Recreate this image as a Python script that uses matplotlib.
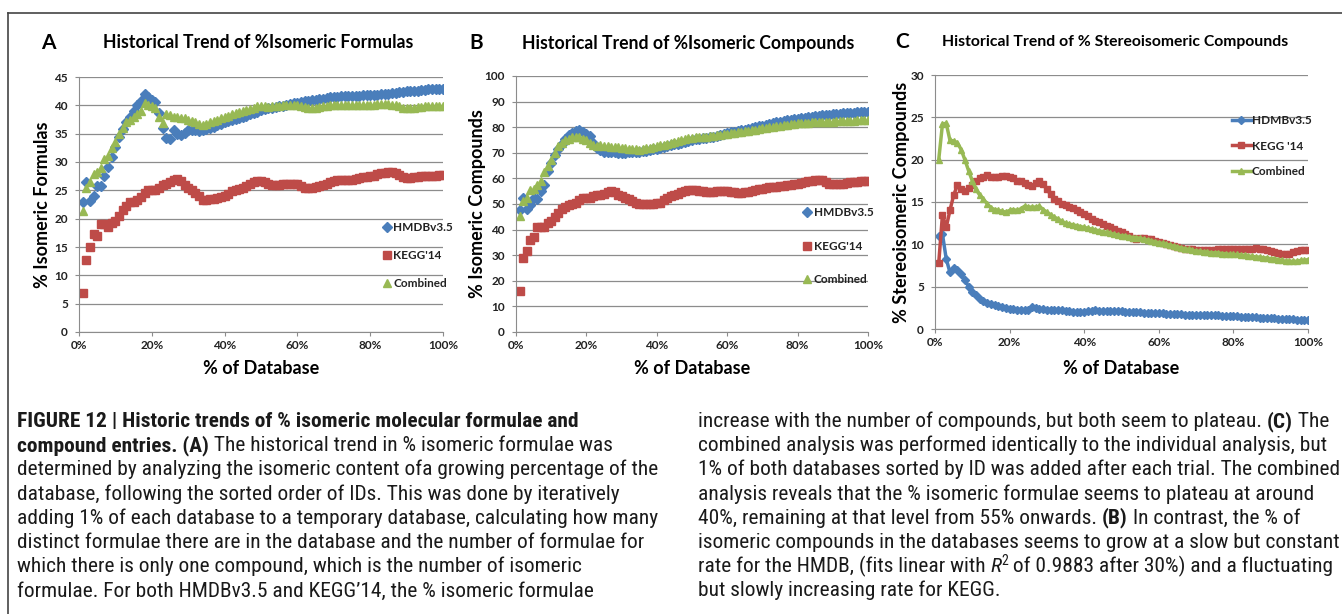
# Historic trends of % isomeric formulae / compounds (3 panels + figure caption)
import matplotlib
matplotlib.use("Agg")
import matplotlib.pyplot as plt
from matplotlib import font_manager
import numpy as np

# ── DATA (1% .. 100% of database) ──────────────────────────────────
PCT = list(range(1, 101))

A_HMDB = [23.0, 26.5, 23.2, 24.0, 25.8, 25.8, 27.5, 29.2, 30.8, 32.6,
          34.5, 35.8, 37.0, 38.0, 39.0, 40.0, 40.8, 42.0, 41.5, 41.0,
          40.6, 38.7, 36.0, 34.2, 34.0, 35.6, 35.0, 34.8, 35.2, 35.6,
          35.7, 35.6, 35.5, 35.6, 35.8, 36.0, 36.2, 36.5, 36.7, 37.0,
          37.2, 37.4, 37.6, 37.8, 38.0, 38.2, 38.4, 38.6, 38.8, 39.2,
          39.4, 39.5, 39.6, 39.7, 39.8, 39.9, 40.0, 40.2, 40.4, 40.5,
          40.6, 40.7, 40.8, 40.9, 41.0, 41.1, 41.2, 41.3, 41.4, 41.5,
          41.5, 41.6, 41.6, 41.6, 41.7, 41.7, 41.7, 41.8, 41.8, 41.8,
          41.9, 41.9, 42.0, 42.0, 42.0, 42.1, 42.2, 42.3, 42.4, 42.5,
          42.5, 42.6, 42.6, 42.7, 42.7, 42.8, 42.8, 42.8, 42.8, 42.8]
A_KEGG = [6.8, 12.7, 15.0, 17.3, 17.0, 19.0, 19.0, 18.5, 19.3, 19.6,
          20.5, 21.5, 22.2, 23.0, 23.0, 23.3, 23.8, 24.5, 25.0, 25.1,
          25.0, 25.5, 26.0, 26.2, 26.5, 26.8, 27.0, 26.6, 26.0, 25.5,
          25.0, 24.5, 24.0, 23.3, 23.3, 23.4, 23.5, 23.6, 23.8, 24.0,
          24.3, 24.8, 25.0, 25.3, 25.5, 25.8, 26.2, 26.5, 26.6, 26.6,
          26.5, 26.2, 26.0, 26.0, 26.0, 26.1, 26.1, 26.1, 26.2, 26.1,
          25.8, 25.5, 25.4, 25.5, 25.6, 25.8, 26.0, 26.2, 26.4, 26.6,
          26.8, 26.9, 26.8, 26.8, 26.9, 27.0, 27.2, 27.3, 27.4, 27.5,
          27.6, 27.8, 28.0, 28.1, 28.2, 28.2, 28.0, 27.7, 27.3, 27.2,
          27.2, 27.3, 27.4, 27.5, 27.5, 27.5, 27.6, 27.6, 27.7, 27.7]
A_COMB = [21.3, 25.5, 26.5, 27.9, 28.3, 29.0, 30.5, 31.0, 32.5, 33.5,
          35.0, 36.0, 37.0, 37.5, 38.0, 38.5, 39.0, 40.5, 40.0, 39.8,
          39.5, 38.0, 36.8, 38.5, 38.3, 38.0, 38.0, 37.8, 37.8, 37.5,
          37.2, 37.0, 36.7, 36.5, 36.7, 37.0, 37.2, 37.5, 37.7, 38.0,
          38.2, 38.4, 38.6, 38.8, 39.0, 39.2, 39.4, 39.6, 39.8, 39.9,
          39.8, 39.7, 39.8, 39.8, 39.9, 40.0, 40.0, 40.0, 40.0, 40.0,
          39.8, 39.7, 39.6, 39.6, 39.6, 39.7, 39.8, 39.9, 40.0, 40.1,
          40.1, 40.0, 40.0, 40.0, 40.0, 40.0, 40.0, 40.0, 40.1, 40.1,
          40.1, 40.2, 40.3, 40.3, 40.2, 40.1, 40.0, 39.8, 39.6, 39.5,
          39.5, 39.6, 39.7, 39.7, 39.8, 39.8, 39.8, 39.8, 39.8, 39.8]

B_HMDB = [47.8, 52.5, 48.0, 49.5, 52.5, 52.0, 55.0, 57.5, 63.0, 66.0,
          69.0, 71.5, 73.5, 75.5, 77.0, 77.8, 78.5, 79.0, 78.0, 77.5,
          76.5, 74.0, 72.0, 71.0, 70.5, 70.5, 70.3, 70.2, 70.0, 70.0,
          70.1, 70.2, 70.3, 70.4, 70.5, 70.7, 70.8, 71.0, 71.3, 71.6,
          72.0, 72.3, 72.7, 73.0, 73.3, 73.6, 74.0, 74.3, 74.6, 75.0,
          75.2, 75.4, 75.6, 75.8, 76.0, 76.3, 76.6, 77.0, 77.3, 77.6,
          78.0, 78.3, 78.6, 78.8, 79.0, 79.3, 79.6, 80.0, 80.3, 80.6,
          81.0, 81.3, 81.6, 81.9, 82.2, 82.5, 82.7, 82.9, 83.1, 83.3,
          83.5, 83.7, 83.9, 84.1, 84.3, 84.5, 84.6, 84.8, 84.9, 85.1,
          85.2, 85.3, 85.4, 85.5, 85.6, 85.7, 85.8, 85.9, 86.0, 86.0]
B_KEGG = [16.2, 29.0, 31.5, 36.0, 37.0, 41.0, 41.0, 41.0, 42.5, 43.5,
          45.0, 46.5, 48.0, 49.0, 49.5, 50.0, 50.5, 51.5, 52.5, 52.5,
          52.5, 53.0, 53.5, 53.5, 54.0, 54.5, 55.0, 54.5, 53.5, 53.0,
          52.5, 52.0, 51.0, 50.5, 50.0, 50.0, 50.0, 50.0, 50.1, 50.2,
          50.5, 51.5, 52.5, 53.0, 53.6, 54.0, 54.5, 55.0, 55.3, 55.5,
          55.4, 55.2, 55.0, 54.8, 54.7, 54.8, 54.9, 55.0, 55.0, 54.9,
          54.7, 54.5, 54.3, 54.3, 54.5, 54.8, 55.0, 55.4, 55.8, 56.0,
          56.3, 56.5, 56.7, 56.8, 57.0, 57.1, 57.3, 57.5, 57.8, 58.0,
          58.3, 58.5, 58.8, 59.0, 59.2, 59.5, 59.3, 58.7, 58.0, 57.8,
          57.8, 57.9, 58.0, 58.2, 58.4, 58.6, 58.7, 58.8, 59.0, 59.0]
B_COMB = [45.5, 51.0, 52.5, 55.5, 56.0, 57.5, 59.0, 62.5, 65.0, 67.0,
          70.0, 72.5, 74.0, 75.0, 75.5, 76.0, 76.3, 76.0, 75.5, 75.0,
          74.0, 73.0, 72.5, 73.0, 72.8, 72.6, 72.4, 72.3, 72.2, 72.0,
          71.8, 71.6, 71.5, 71.3, 71.2, 71.4, 71.7, 72.0, 72.3, 72.6,
          72.9, 73.2, 73.5, 73.8, 74.2, 74.6, 75.0, 75.3, 75.6, 75.8,
          76.0, 76.1, 76.2, 76.3, 76.4, 76.6, 76.8, 77.0, 77.2, 77.5,
          77.7, 77.9, 78.1, 78.3, 78.5, 78.7, 78.9, 79.1, 79.3, 79.5,
          79.7, 79.9, 80.1, 80.3, 80.5, 80.7, 80.9, 81.1, 81.3, 81.5,
          81.6, 81.7, 81.8, 81.9, 82.0, 82.0, 82.1, 82.1, 82.2, 82.2,
          82.3, 82.3, 82.4, 82.4, 82.5, 82.6, 82.7, 82.8, 82.9, 83.0]

C_HMDB = [11.0, 11.2, 8.3, 6.7, 7.2, 7.0, 6.5, 5.8, 5.0, 4.4,
          4.0, 3.6, 3.3, 3.1, 3.0, 2.8, 2.7, 2.6, 2.5, 2.4,
          2.4, 2.3, 2.3, 2.2, 2.3, 2.6, 2.5, 2.4, 2.4, 2.3,
          2.3, 2.2, 2.2, 2.2, 2.1, 2.1, 2.0, 2.0, 2.0, 2.0,
          2.1, 2.1, 2.2, 2.1, 2.1, 2.1, 2.1, 2.1, 2.1, 2.1,
          2.0, 2.0, 2.0, 2.0, 2.0, 1.9, 1.9, 1.9, 1.9, 1.9,
          1.9, 1.8, 1.8, 1.8, 1.8, 1.8, 1.7, 1.7, 1.7, 1.7,
          1.7, 1.6, 1.6, 1.6, 1.6, 1.6, 1.5, 1.5, 1.5, 1.5,
          1.5, 1.4, 1.4, 1.4, 1.4, 1.4, 1.3, 1.3, 1.3, 1.3,
          1.3, 1.2, 1.2, 1.2, 1.2, 1.2, 1.1, 1.1, 1.1, 1.1]
C_KEGG = [7.8, 13.5, 12.0, 14.0, 15.8, 17.0, 16.5, 16.3, 16.6, 17.0,
          17.5, 17.8, 18.0, 18.2, 17.9, 17.9, 18.0, 18.1, 18.1, 18.0,
          17.8, 17.5, 17.5, 17.3, 17.0, 16.9, 17.2, 17.5, 17.1, 16.5,
          15.9, 15.4, 15.1, 14.8, 14.6, 14.4, 14.3, 14.0, 13.8, 13.6,
          13.3, 13.0, 12.8, 12.6, 12.4, 12.2, 12.0, 11.8, 11.6, 11.4,
          11.2, 11.0, 10.8, 10.6, 10.7, 10.7, 10.6, 10.6, 10.4, 10.3,
          10.1, 10.0, 9.9, 9.8, 9.7, 9.6, 9.5, 9.4, 9.4, 9.3,
          9.3, 9.3, 9.3, 9.3, 9.3, 9.4, 9.4, 9.4, 9.4, 9.4,
          9.4, 9.4, 9.5, 9.5, 9.5, 9.6, 9.5, 9.4, 9.3, 9.2,
          9.1, 9.0, 8.9, 8.8, 8.9, 9.1, 9.2, 9.3, 9.3, 9.3]
C_COMB = [20.0, 24.2, 24.3, 22.3, 22.2, 22.0, 21.2, 20.0, 18.7, 17.5,
          16.5, 15.8, 15.3, 14.8, 14.3, 14.1, 14.0, 13.9, 13.8, 14.0,
          14.1, 14.0, 14.2, 14.5, 14.4, 14.4, 14.4, 14.5, 14.1, 13.8,
          13.5, 13.2, 13.0, 12.7, 12.5, 12.4, 12.3, 12.2, 12.1, 12.0,
          11.9, 11.8, 11.7, 11.6, 11.5, 11.4, 11.3, 11.2, 11.1, 11.0,
          11.0, 10.9, 10.8, 10.8, 10.7, 10.6, 10.5, 10.4, 10.3, 10.2,
          10.1, 10.0, 9.9, 9.8, 9.7, 9.6, 9.5, 9.4, 9.3, 9.2,
          9.2, 9.1, 9.1, 9.0, 9.0, 9.0, 8.9, 8.9, 8.8, 8.8,
          8.8, 8.7, 8.7, 8.6, 8.6, 8.5, 8.5, 8.4, 8.4, 8.3,
          8.3, 8.2, 8.1, 8.0, 8.0, 8.0, 8.0, 8.1, 8.1, 8.2]

LABELS_AB = ["HMDBv3.5", "KEGG'14", "Combined"]
LABELS_C = ["HDMBv3.5", "KEGG '14", "Combined"]

CAPTION_LEFT = [
    [("FIGURE 12 | Historic trends of % isomeric molecular formulae and", "b")],
    [("compound entries. (A)", "b"), (" The historical trend in % isomeric formulae was", "n")],
    [("determined by analyzing the isomeric content ofa growing percentage of the", "n")],
    [("database, following the sorted order of IDs. This was done by iteratively", "n")],
    [("adding 1% of each database to a temporary database, calculating how many", "n")],
    [("distinct formulae there are in the database and the number of formulae for", "n")],
    [("which there is only one compound, which is the number of isomeric", "n")],
    [("formulae. For both HMDBv3.5 and KEGG\u201914, the % isomeric formulae", "n")],
]
CAPTION_RIGHT = [
    [("increase with the number of compounds, but both seem to plateau. ", "n"), ("(C)", "b"), (" The", "n")],
    [("combined analysis was performed identically to the individual analysis, but", "n")],
    [("1% of both databases sorted by ID was added after each trial. The combined", "n")],
    [("analysis reveals that the % isomeric formulae seems to plateau at around", "n")],
    [("40%, remaining at that level from 55% onwards. ", "n"), ("(B)", "b"), (" In contrast, the % of", "n")],
    [("isomeric compounds in the databases seems to grow at a slow but constant", "n")],
    [("rate for the HMDB, (fits linear with ", "n"), ("R", "i"), ("2", "sup"),
     (" of 0.9883 after 30%) and a fluctuating", "n")],
    [("but slowly increasing rate for KEGG.", "n")],
]

# ── STYLE ───────────────────────────────────────────────────────────
BLUE, RED, GREEN = "#4A7EBB", "#BE4B48", "#98B954"
GRID = "#8C8C8C"
CHART_FONT = "Lato"

# caption is set in a condensed grotesque; use a condensed face if one is installed
_fonts = font_manager.fontManager.ttflist
_names = {f.name for f in _fonts}
CAPTION_FONT, CAPTION_STRETCH = "Liberation Sans", "normal"
if "Liberation Sans Narrow" in _names:
    CAPTION_FONT = "Liberation Sans Narrow"
else:
    for pref in ("Roboto Condensed", "Open Sans Condensed", "Noto Sans", "Roboto",
                 "Open Sans", "DejaVu Sans", "Liberation Sans"):
        hits = [f for f in _fonts if f.name == pref and f.style == "normal"
                and str(f.stretch) in ("condensed", "semi-condensed")]
        if hits or (pref.endswith("Condensed") and pref in _names):
            CAPTION_FONT = pref
            CAPTION_STRETCH = str(hits[0].stretch) if hits else "normal"
            break

W, H = 1342, 614
fig = plt.figure(figsize=(W / 100, H / 100), dpi=100)
renderer = fig.canvas.get_renderer()


def px(x, y):
    return x / W, 1 - y / H


def px_axes(left, top, right, bottom):
    return fig.add_axes([left / W, 1 - bottom / H, (right - left) / W, (bottom - top) / H])


def style_axes(ax, ymax, ystep):
    ax.set_xlim(0, 100)
    ax.set_ylim(0, ymax)
    ax.set_xticks(range(0, 101, 20))
    ax.set_xticklabels([f"{t}%" for t in range(0, 101, 20)])
    ax.set_yticks(np.arange(0, ymax + 0.1, ystep))
    ax.yaxis.grid(True, color=GRID, lw=0.9)
    ax.set_axisbelow(True)
    for s in ("top", "right"):
        ax.spines[s].set_visible(False)
    for s in ("left", "bottom"):
        ax.spines[s].set_color(GRID)
    ax.tick_params(length=3, color=GRID, labelsize=8.5, pad=3)
    ax.tick_params(axis="y", pad=5)
    for lab in ax.get_xticklabels() + ax.get_yticklabels():
        lab.set_fontweight("bold")
        lab.set_family(CHART_FONT)
        lab.set_color("#222222")


def fitted_text(x, y, s, target_px, base=12, **kw):
    t = fig.text(*px(x, y), s, fontsize=base, fontweight="bold", family=CHART_FONT,
                 ha="center", va="center", **kw)
    w = t.get_window_extent(renderer=renderer).width
    t.set_fontsize(base * target_px / w)
    return t


def panel_text(letter, lx, title, tx, ty, title_w, ylabel, ylx, yly, xlx):
    fig.text(*px(lx, ty), letter, fontsize=15, fontweight="bold", family=CHART_FONT,
             ha="center", va="center")
    fitted_text(tx, ty, title, title_w)
    fig.text(*px(ylx, yly), ylabel, fontsize=13, fontweight="bold", family=CHART_FONT,
             ha="center", va="center", rotation=90)
    fig.text(*px(xlx, 368), "% of Database", fontsize=13, fontweight="bold",
             family=CHART_FONT, ha="center", va="center")


def scatter_panel(ax, series, labels, anchor, spacing):
    for ys, col, mk, ms, lab in zip(series, (BLUE, RED, GREEN), ("D", "s", "^"),
                                    (4.8, 6.2, 6.2), labels):
        ax.plot(PCT, ys, ls="none", marker=mk, ms=ms, color=col, mec=col, label=lab)
    leg = ax.legend(loc="center left", bbox_to_anchor=anchor, frameon=False,
                    handlelength=0.6, handletextpad=0.25, labelspacing=spacing,
                    borderpad=0, prop={"family": CHART_FONT, "weight": "bold", "size": 8.5})
    for t in leg.get_texts():
        t.set_color("#222222")


# ── PANEL A ─────────────────────────────────────────────────────────
axA = px_axes(79, 77, 443, 332)
scatter_panel(axA, (A_HMDB, A_KEGG, A_COMB), LABELS_AB, (0.82, 0.30), 1.45)
style_axes(axA, 45, 5)
panel_text("A", 48, "Historical Trend of %Isomeric Formulas", 258, 43, 308,
           "% Isomeric Formulas", 43, 205, 261)

# ── PANEL B ─────────────────────────────────────────────────────────
axB = px_axes(516, 76, 868, 332)
scatter_panel(axB, (B_HMDB, B_KEGG, B_COMB), LABELS_AB, (0.80, 0.335), 1.9)
style_axes(axB, 100, 10)
panel_text("B", 476, "Historical Trend of %Isomeric Compounds", 688, 43, 330,
           "% Isomeric Compounds", 478, 204, 692)

# ── PANEL C ─────────────────────────────────────────────────────────
axC = px_axes(935, 75, 1308, 329)
for ys, col, mk, ms, lab in zip((C_HMDB, C_KEGG, C_COMB), (BLUE, RED, GREEN),
                                ("D", "s", "^"), (4, 5, 5), LABELS_C):
    axC.plot(PCT, ys, lw=2.5, marker=mk, ms=ms, color=col, mec=col, label=lab)
legC = axC.legend(loc="center left", bbox_to_anchor=(0.78, 0.72), frameon=False,
                  handlelength=1.6, handletextpad=0.1, labelspacing=1.25, borderpad=0,
                  prop={"family": CHART_FONT, "weight": "bold", "size": 8.5})
for t in legC.get_texts():
    t.set_color("#222222")
style_axes(axC, 30, 5)
panel_text("C", 902, "Historical Trend of % Stereoisomeric Compounds", 1115, 42, 345,
           "% Stereoisomeric Compounds", 902, 202, 1121)

# ── FRAME ───────────────────────────────────────────────────────────
fig.add_artist(plt.Line2D([8 / W, 8 / W], [0, 1 - 13 / H], color="#444444", lw=1.2))
fig.add_artist(plt.Line2D([8 / W, 1], [1 - 13 / H, 1 - 13 / H], color="#444444", lw=1.2))


# ── CAPTION ─────────────────────────────────────────────────────────
def text_width(parts, size):
    w = 0
    for text, kind in parts:
        t = fig.text(0, 0, text, fontsize=size, family=CAPTION_FONT, fontstretch=CAPTION_STRETCH,
                     fontweight="bold" if kind == "b" else "normal")
        w += t.get_window_extent(renderer=renderer).width
        t.remove()
    return w


def caption_line(x, y, parts, size):
    for text, kind in parts:
        kw = {"fontsize": size, "family": CAPTION_FONT, "fontstretch": CAPTION_STRETCH,
              "va": "baseline", "color": "#1a1a1a"}
        yy = y
        if kind == "b":
            kw["fontweight"] = "bold"
        elif kind == "i":
            kw["style"] = "italic"
        elif kind == "sup":
            kw["fontsize"] = size * 0.65
            yy = y - 7
        t = fig.text(*px(x, yy), text, **kw)
        x += t.get_window_extent(renderer=renderer).width


# one size for the whole caption, fitted so the widest lines reach the column edges
CAP_SIZE = min(10 * 649 / text_width(CAPTION_LEFT[4], 10),
               10 * 638 / text_width(CAPTION_RIGHT[2], 10))
for i, (lparts, rparts) in enumerate(zip(CAPTION_LEFT, CAPTION_RIGHT)):
    base_y = 427 + i * 24.2
    caption_line(17, base_y, lparts, CAP_SIZE)
    caption_line(698, base_y, rparts, CAP_SIZE)

fig.savefig("out.png", dpi=100)
